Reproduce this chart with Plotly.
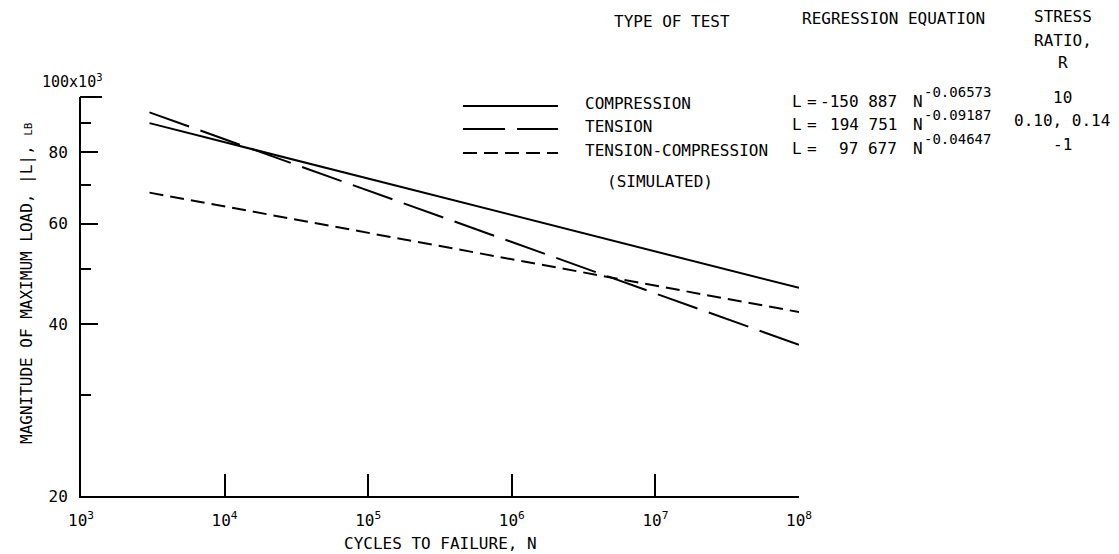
import plotly.graph_objects as go

# ---- data ----
cycles = [3000, 1e8]
compression = [90.0, 46.3]
tension = [94.0, 36.8]
tension_compression = [68.0, 42.0]

x_tickvals = [1e3, 1e4, 1e5, 1e6, 1e7, 1e8]
x_ticktext = ["10<sup>3</sup>", "10<sup>4</sup>", "10<sup>5</sup>", "10<sup>6</sup>",
              "10<sup>7</sup>", "10<sup>8</sup>"]
y_tickvals = [20, 40, 60, 80, 100]
y_ticktext = ["20", "40", "60", "80", ""]
y_minor = [30, 50, 70, 90]

test_types = ["COMPRESSION", "TENSION", "TENSION-COMPRESSION"]
coeffs = ["-150 887", "194 751", "97 677"]
exponents = ["-0.06573", "-0.09187", "-0.04647"]
stress_ratios = ["10", "0.10, 0.14", "-1"]

# ---- layout geometry (window pixel coordinates) ----
W, H = 1119, 554
OFF = 8  # page body margin
X0, X1, Y0, Y1 = 81, 799, 97, 496  # plot area in window pixels
PW = X1 - X0
PH = Y1 - Y0

def px(x):
    return (x - X0) / PW

def py(y):
    return (Y1 - y) / PH

FONT = "DejaVu Sans Mono, Liberation Mono, monospace"
FS = 16

fig = go.Figure()
styles = [dict(color="black", width=2),
          dict(color="black", width=2, dash="42px,12px"),
          dict(color="black", width=2, dash="14px,7px")]
for name, ys, st in zip(test_types, [compression, tension, tension_compression], styles):
    fig.add_trace(go.Scatter(x=cycles, y=ys, mode="lines", name=name, line=st,
                             showlegend=False))

axis_common = dict(showgrid=False, zeroline=False, showline=True, linecolor="black",
                   linewidth=2, ticks="inside", tickcolor="black", tickwidth=2,
                   tickfont=dict(family=FONT, size=FS, color="black"))

fig.update_xaxes(type="log", range=[3, 8], tickmode="array", tickvals=x_tickvals,
                 ticktext=x_ticktext, ticklen=22, ticklabelstandoff=9, **axis_common)
fig.update_yaxes(type="log", range=[1.30103, 2], tickmode="array", tickvals=y_tickvals,
                 ticktext=y_ticktext, ticklen=17, ticklabelstandoff=8,
                 minor=dict(tickmode="array", tickvals=y_minor, ticklen=10,
                            ticks="inside", tickcolor="black", tickwidth=2),
                 **axis_common)

ann = []
def text(x, y, s, anchor="center", size=FS, angle=0):
    ann.append(dict(x=px(x), y=py(y), xref="paper", yref="paper", text=s,
                    showarrow=False, xanchor=anchor, yanchor="middle", textangle=angle,
                    font=dict(family=FONT, size=size, color="black")))

text(72, 81, "100x10<sup>3</sup>", size=15)
text(26, 283, "MAGNITUDE OF MAXIMUM LOAD, |L|, <span style='font-size:11px'>LB</span>",
     angle=-90)
text(440, 543, "CYCLES TO FAILURE, N")
text(672, 21, "TYPE OF TEST")
text(893, 19, "REGRESSION EQUATION")
text(1063, 16, "STRESS")
text(1063, 40, "RATIO,")
text(1063, 63, "R")

row_y = [103, 126, 150]
for i, (t, c, e, r) in enumerate(zip(test_types, coeffs, exponents, stress_ratios)):
    text(583, row_y[i], t, anchor="left")
    text(790, row_y[i] - 2, "L", anchor="left")
    text(812, row_y[i] - 2, "=")
    text(899, row_y[i] - 2, c, anchor="right")
    text(911, row_y[i] - 2, "N", anchor="left")
    text(922, row_y[i] - 11, e, anchor="left", size=14)
    text(1062, row_y[i] - 6, r)
text(605, 181, "(SIMULATED)", anchor="left")

shapes = []
for i, st in enumerate(styles):
    shapes.append(dict(type="line", xref="paper", yref="paper",
                       x0=px(463), x1=px(558), y0=py(row_y[i] + 3), y1=py(row_y[i] + 3),
                       line=st))
# top tick of y axis
shapes.append(dict(type="line", xref="paper", yref="paper", x0=px(80), x1=px(102),
                   y0=1, y1=1, line=dict(color="black", width=2)))

fig.update_layout(width=W - OFF, height=H - OFF,
                  margin=dict(l=X0 - OFF, r=W - X1, t=Y0 - OFF, b=H - Y1),
                  paper_bgcolor="white", plot_bgcolor="white",
                  annotations=ann, shapes=shapes, showlegend=False)

fig.write_html("out.html")
